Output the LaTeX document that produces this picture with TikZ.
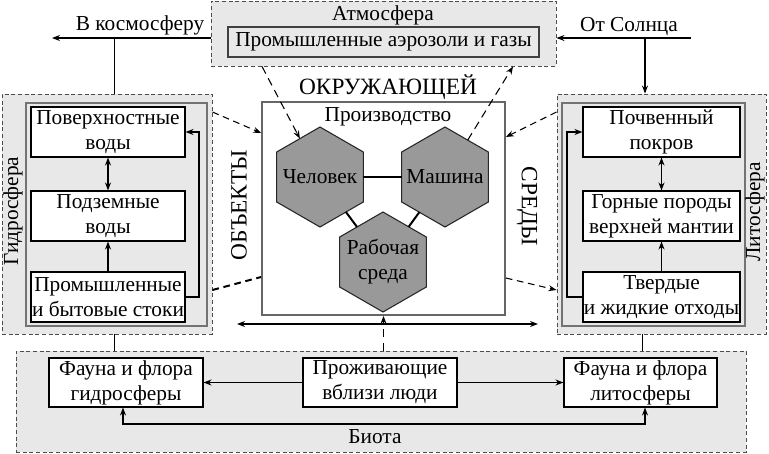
\documentclass[tikz,border=0pt]{standalone}
\usepackage{fontspec}
\setmainfont{Liberation Serif}
\usetikzlibrary{shapes.geometric,arrows.meta,fit}
\begin{document}
\begin{tikzpicture}[x=0.75pt,y=-0.75pt,
  every node/.style={font=\fontsize{16}{18.8}\selectfont},
  zone/.style={draw=black!70, dash pattern=on 3pt off 2pt, fill=black!9, line width=0.7pt, inner sep=0pt},
  cont/.style={draw=black!55, line width=1.4pt, fill=black!9, inner sep=0pt},
  box/.style={draw=black, line width=0.8pt, fill=white, inner sep=0pt, align=center},
  hexa/.style={regular polygon, regular polygon sides=6, shape border rotate=30, minimum size=75pt, fill=black!40, draw=black!85, line width=0.8pt, inner sep=0pt, outer sep=0pt},
  arr/.style={-{Stealth[length=6pt,width=4.5pt]}, line width=0.8pt},
  arrb/.style={{Stealth[length=6pt,width=4.5pt]}-{Stealth[length=6pt,width=4.5pt]}, line width=0.8pt},
  thickdash/.style={dash pattern=on 5pt off 3.5pt, line width=1.5pt},
  thindash/.style={dash pattern=on 6pt off 4pt, line width=0.7pt},
  big/.style={font=\fontsize{17.5}{20}\selectfont}
]
\useasboundingbox (0,0) rectangle (769,454);

% zones
\node[zone, fit={(211,1) (556,66)}] (atm) {};
\node[zone, fit={(2,94) (212,334)}] (hyd) {};
\node[zone, fit={(557,94) (766,334)}] (lit) {};
\node[zone, fit={(16,351) (746,452)}] (bio) {};

% atmosphere
\node (atml) at (383,15) {Атмосфера};
\node[cont, draw=black!75, fit={(228,27) (539,57)}] (aer) {};
\node at (aer) {Промышленные аэрозоли и газы};

% space / sun
\node (kosm) at (140,25) {В космосферу};
\node (sun) at (629,26) {От Солнца};
\coordinate (kl) at (52,38);
\coordinate (kj) at (114,38);
\coordinate (ss) at (691,38);
\coordinate (sj) at (645,38);
\draw[arr] (atm.west |- kl) -- (kl);
\draw (kj) -- (kj |- hyd.north);
\draw[arr] (ss) -- (ss -| atm.east);
\draw[arr] (sj) -- (sj |- lit.north);

% hydrosphere
\node[cont, fit={(26,103) (207,326)}] (hydc) {};
\node[rotate=90] (hydl) at (13,211) {Гидросфера};
\node[box, fit={(31,107) (185,157)}] (pv) {};
\node[align=center] at (pv) {Поверхностные\\воды};
\node[box, fit={(31,191) (185,241)}] (pz) {};
\node[align=center] at (pz) {Подземные\\воды};
\node[box, fit={(31,272) (185,322)}] (ps) {};
\node[align=center] at (ps) {Промышленные\\и бытовые стоки};
\draw[arrb] (pv) -- (pz);
\draw[arr] (ps) -- (pz);
\coordinate (hr) at (199,0);
\draw[arr] (ps.east) -- (ps.east -| hr) -- (pv.east -| hr) -- (pv.east);

% lithosphere
\node[cont, fit={(562,103) (745,326)}] (litc) {};
\node[rotate=90] (litl) at (755,212) {Литосфера};
\node[box, fit={(583,107) (740,157)}] (pk) {};
\node[align=center] at (pk) {Почвенный\\покров};
\node[box, fit={(583,191) (740,241)}] (gp) {};
\node[align=center] at (gp) {Горные породы\\верхней мантии};
\node[box, fit={(583,272) (740,322)}] (tv) {};
\node[align=center] at (tv) {Твердые\\и жидкие отходы};
\draw[arrb] (pk) -- (gp);
\draw[arr] (tv) -- (gp);
\coordinate (lr) at (567,0);
\draw[arr] (tv.west) -- (tv.west -| lr) -- (pk.west -| lr) -- (pk.west);

% center
\node[big] (okr) at (388,87) {ОКРУЖАЮЩЕЙ};
\node[big, rotate=90] (obj) at (239,205) {ОБЪЕКТЫ};
\node[big, rotate=-90] (sred) at (527,206) {СРЕДЫ};
\node[draw=black!60, line width=1.3pt, fill=white, inner sep=0pt, fit={(262,102) (505,315)}] (prod) {};
\node (prodl) at (388,117) {Производство};
\node[hexa] (chel) at (320,177) {};
\node at (chel) {Человек};
\node[hexa] (mash) at (445,177) {};
\node at (mash) {Машина};
\node[hexa] (rab) at (383,262) {};
\node[align=center] at (rab) {Рабочая\\среда};
\draw[line width=1.5pt] (chel) -- (mash);
\draw[line width=1.5pt] (chel) -- (rab);
\draw[line width=1.5pt] (mash) -- (rab);

% dashed links
\coordinate (a1) at (262,0);
\coordinate (a2) at (513,0);
\draw[thindash, arr] (a1 |- atm.south) -- (chel);
\draw[thindash, arr] (mash) -- (a2 |- atm.south);
\coordinate (h1) at (0,112);
\coordinate (p1) at (0,133);
\coordinate (l1) at (0,112);
\coordinate (p2) at (0,137);
\coordinate (h2) at (0,290);
\coordinate (p3) at (0,277);
\coordinate (p4) at (0,278);
\coordinate (l2) at (0,290);
\draw[thickdash, arr] (hyd.east |- h1) -- (prod.west |- p1);
\draw[thickdash, arr] (lit.west |- l1) -- (prod.east |- p2);
\draw[thickdash] (hyd.east |- h2) -- (prod.west |- p3);
\draw[thickdash, arr] (prod.east |- p4) -- (lit.west |- l2);

% horizontal double arrow and vertical
\coordinate (d1) at (237,324);
\coordinate (d2) at (538,324);
\draw[arrb] (d1) -- (d2);
\draw[thindash, arr] (prod.south |- bio.north) -- (prod.south);

% links to biota
\coordinate (lj) at (642,0);
\draw (kj |- hyd.south) -- (kj |- bio.north);
\draw (lj |- lit.south) -- (lj |- bio.north);

% biota
\node (biol) at (375,437) {Биота};
\node[box, fit={(49,358) (203,407)}] (fg) {};
\node[align=center] at (fg) {Фауна и флора\\гидросферы};
\node[box, fit={(303,358) (457,407)}] (pl) {};
\node[align=center] at (pl) {Проживающие\\вблизи люди};
\node[box, fit={(564,358) (717,407)}] (fl) {};
\node[align=center] at (fl) {Фауна и флора\\литосферы};
\draw[arr] (pl) -- (fg);
\draw[arr] (pl) -- (fl);
\coordinate (b1) at (123,424);
\coordinate (b2) at (645,424);
\draw[arrb] (b1 |- fg.south) -- (b1) -- (b2) -- (b2 |- fl.south);
\end{tikzpicture}
\end{document}
